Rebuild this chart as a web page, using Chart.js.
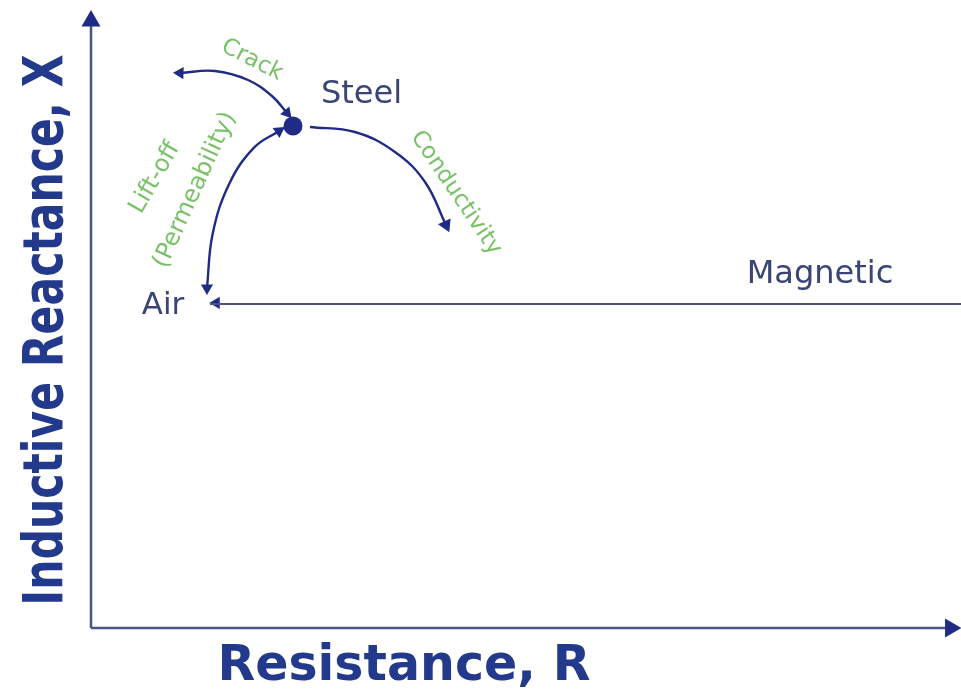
<!DOCTYPE html>
<html lang="en">
<head>
  <meta charset="UTF-8" />
  <title>Impedance Plane</title>
  <script src="https://cdn.jsdelivr.net/npm/chart.js"></script>
  <style>
    body { margin: 0; background: #fff; }
    #wrap { width: 961px; height: 691px; }
  </style>
</head>
<body>
  <div id="wrap"><canvas id="plane"></canvas></div>

  <script>
    // impedance plane: R = resistance (horizontal), X = inductive reactance (vertical), 0..100
    const axisR = [0, 98.8];
    const axisX = [0, 98.2];

    const liftOffR = [13.33, 13.98, 15.84, 18.68, 21.61];
    const liftOffX = [55.02, 63.75, 71.73, 77.65, 80.42];

    const crackR = [10.23, 14.25, 18.05, 20.80, 22.53];
    const crackX = [89.81, 90.13, 88.67, 86.08, 83.33];

    const condR = [25.17, 30.34, 34.94, 38.39, 40.80];
    const condX = [81.07, 80.26, 77.02, 72.17, 65.21];

    const magneticR = [13.68, 100];
    const magneticX = [52.43, 52.43];

    const steel = { r: 23.22, x: 81.23 };
    const air = { r: 14.4, x: 52.6 };

    const labels = ['Steel', 'Air', 'Magnetic', 'Crack', 'Conductivity', 'Lift-off', '(Permeability)'];
    const labelR = [31.1, 8.28, 83.79, 18.51, 41.95, 7.36, 11.95];
    const labelX = [86.25, 52.10, 57.12, 91.91, 70.39, 72.82, 70.87];
    const labelAngle = [0, 0, 0, 27, 56, -60, -65.5];
    const labelSize = [32, 31, 32, 23, 23, 24, 24];
    const labelKind = ['point', 'point', 'point', 'effect', 'effect', 'effect', 'effect'];

    const navy = '#1f2b85';
    const axisGray = '#4d5482';
    const green = '#78c266';
    const labelNavy = '#3a4475';
    const titleBlue = '#22398c';

    const pts = (rs, xs) => rs.map((r, i) => ({ x: r, y: xs[i] }));

    const textPlugin = {
      id: 'texts',
      afterDatasetsDraw(chart) {
        const { ctx, scales } = chart;
        ctx.save();
        labels.forEach((t, i) => {
          const px = scales.x.getPixelForValue(labelR[i]);
          const py = scales.y.getPixelForValue(labelX[i]);
          ctx.save();
          ctx.translate(px, py);
          ctx.rotate(labelAngle[i] * Math.PI / 180);
          ctx.fillStyle = labelKind[i] === 'point' ? labelNavy : green;
          ctx.font = labelSize[i] + 'px "DejaVu Sans"';
          ctx.textAlign = 'center';
          ctx.textBaseline = 'middle';
          ctx.fillText(t, 0, 0);
          ctx.restore();
        });

        // axis titles
        ctx.fillStyle = titleBlue;
        ctx.font = 'bold 49px "DejaVu Sans"';
        ctx.textAlign = 'center';
        ctx.textBaseline = 'alphabetic';
        ctx.fillText('Resistance, R', 404, 680);

        ctx.save();
        ctx.translate(62, 330);
        ctx.rotate(-Math.PI / 2);
        ctx.scale(0.76, 1);
        ctx.font = 'bold 56px "DejaVu Sans"';
        ctx.fillText('Inductive Reactance, X', 0, 0);
        ctx.restore();
        ctx.restore();
      }
    };

    const line = (data, color, width, radii, rots) => ({
      data: data,
      showLine: true,
      borderColor: color,
      backgroundColor: navy,
      borderWidth: width,
      tension: 0.4,
      pointStyle: 'triangle',
      pointRadius: radii,
      pointRotation: rots,
      pointBorderWidth: 0,
      clip: false
    });

    new Chart(document.getElementById('plane'), {
      type: 'scatter',
      data: {
        datasets: [
          line(pts([0, 0], axisX), axisGray, 2.5, [0, 11], [0, 0]),
          line(pts(axisR, [0, 0]), axisGray, 2.5, [0, 11], [0, 90]),
          line(pts(magneticR, magneticX), axisGray, 2, 0, 0),
          line(pts(liftOffR, liftOffX), navy, 2.4, [7, 0, 0, 0, 7], [180, 0, 0, 0, 56]),
          line(pts(crackR, crackX), navy, 2.4, [7, 0, 0, 0, 7], [272, 0, 0, 0, 139]),
          line(pts(condR, condX), navy, 2.4, [0, 0, 0, 0, 8], [0, 0, 0, 0, 155]),
          {
            data: [{ x: air.r, y: air.x }],
            pointStyle: 'triangle',
            pointRotation: 270,
            pointRadius: 7,
            pointBorderWidth: 0,
            backgroundColor: navy
          },
          {
            data: [{ x: steel.r, y: steel.x }],
            pointStyle: 'circle',
            pointRadius: 9.5,
            pointBorderWidth: 0,
            backgroundColor: navy
          }
        ]
      },
      options: {
        responsive: true,
        maintainAspectRatio: false,
        animation: false,
        layout: { autoPadding: false, padding: { left: 91, right: 0, top: 10, bottom: 63 } },
        scales: {
          x: { type: 'linear', min: 0, max: 100, display: false },
          y: { type: 'linear', min: 0, max: 100, display: false }
        },
        plugins: {
          legend: { display: false },
          tooltip: { enabled: false }
        }
      },
      plugins: [textPlugin]
    });
  </script>
</body>
</html>
